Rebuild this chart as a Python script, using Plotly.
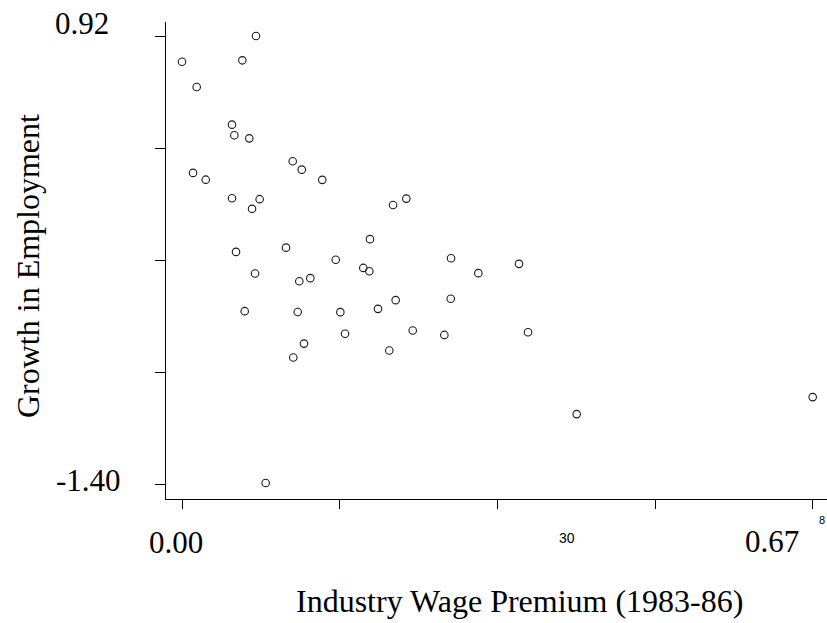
import plotly.graph_objects as go

# Data
wage_premium = [0.0786, 0.0000, 0.0641, 0.0156, 0.0531, 0.0556, 0.0715, 0.1176, 0.1272, 0.1490,
                0.0117, 0.0252, 0.0531, 0.0825, 0.0744, 0.0574, 0.1105, 0.1633, 0.0776, 0.1246,
                0.1363, 0.0666, 0.1229, 0.1296, 0.1182, 0.2242, 0.2383, 0.1997, 0.1926, 0.1990,
                0.2858, 0.3148, 0.3580, 0.1682, 0.2082, 0.2270, 0.2855, 0.1732, 0.2451, 0.2787,
                0.3676, 0.2202, 0.4193, 0.6700, 0.0889]
emp_growth = [0.920, 0.787, 0.794, 0.656, 0.461, 0.406, 0.390, 0.271, 0.228, 0.175,
              0.211, 0.176, 0.080, 0.075, 0.025, -0.198, -0.176, -0.239, -0.310, -0.350,
              -0.334, -0.505, -0.509, -0.673, -0.745, 0.045, 0.078, -0.132, -0.281, -0.298,
              -0.231, -0.308, -0.260, -0.510, -0.493, -0.448, -0.441, -0.622, -0.605, -0.628,
              -0.614, -0.709, -1.038, -0.950, -1.395]

x_ticks = [0.0, 0.1675, 0.335, 0.5025, 0.67]
y_ticks = [0.92, 0.34, -0.24, -0.82, -1.40]
y_tick_labels = ["0.92", "-1.40"]
x_tick_labels = ["0.00", "0.67"]
x_title = "Industry Wage Premium (1983-86)"
y_title = "Growth in Employment"

W, H = 827, 623
L, R, T, B = 166, 0, 22, 124
PW, PH = W - L - R, H - T - B


def px(x):
    return (x - L) / PW


def py(y):
    return (H - B - y) / PH


SERIF = "Liberation Serif, Times New Roman, serif"

fig = go.Figure()
fig.add_trace(go.Scatter(
    x=wage_premium, y=emp_growth, mode="markers",
    marker=dict(symbol="circle-open", size=7.5, color="#1a1a1a", line=dict(width=1.1)),
    cliponaxis=False, showlegend=False,
))

annotations = [
    dict(text=y_tick_labels[0], x=px(82.5), y=py(24), xref="paper", yref="paper",
         xanchor="center", yanchor="middle", showarrow=False, font=dict(family=SERIF, size=31, color="black")),
    dict(text=y_tick_labels[1], x=px(88), y=py(480), xref="paper", yref="paper",
         xanchor="center", yanchor="middle", showarrow=False, font=dict(family=SERIF, size=31, color="black")),
    dict(text=x_tick_labels[0], x=px(176), y=py(542), xref="paper", yref="paper",
         xanchor="center", yanchor="middle", showarrow=False, font=dict(family=SERIF, size=31, color="black")),
    dict(text=x_tick_labels[1], x=px(772), y=py(541), xref="paper", yref="paper",
         xanchor="center", yanchor="middle", showarrow=False, font=dict(family=SERIF, size=31, color="black")),
    dict(text="30", x=px(567), y=py(538), xref="paper", yref="paper",
         xanchor="center", yanchor="middle", showarrow=False, font=dict(family="Liberation Sans, Arial", size=14, color="black")),
    dict(text="8", x=px(817), y=py(520), xref="paper", yref="paper",
         xanchor="left", yanchor="middle", showarrow=False, font=dict(family="Liberation Sans, Arial", size=11, color="black")),
    dict(text=x_title, x=px(519.5), y=py(601), xref="paper", yref="paper",
         xanchor="center", yanchor="middle", showarrow=False, font=dict(family=SERIF, size=32, color="black")),
    dict(text=y_title, x=px(27.5), y=py(266.5), xref="paper", yref="paper", textangle=-90,
         xanchor="center", yanchor="middle", showarrow=False, font=dict(family=SERIF, size=32, color="black")),
]

fig.update_layout(
    width=W, height=H,
    margin=dict(l=L, r=R, t=T, b=B, pad=0),
    paper_bgcolor="white", plot_bgcolor="white",
    annotations=annotations,
    xaxis=dict(range=[-0.0170, 0.6852], tickvals=x_ticks, showticklabels=False,
               ticks="outside", ticklen=9, tickwidth=1, tickcolor="black",
               showline=True, linecolor="black", linewidth=1.2, showgrid=False, zeroline=False),
    yaxis=dict(range=[-1.4777, 0.9925], tickvals=y_ticks, showticklabels=False,
               ticks="outside", ticklen=10, tickwidth=1, tickcolor="black",
               showline=True, linecolor="black", linewidth=1.2, showgrid=False, zeroline=False),
)

fig.write_html("out.html",
               config={"displayModeBar": False},
               post_script="document.body.style.margin='0';document.body.style.overflow='hidden';")
